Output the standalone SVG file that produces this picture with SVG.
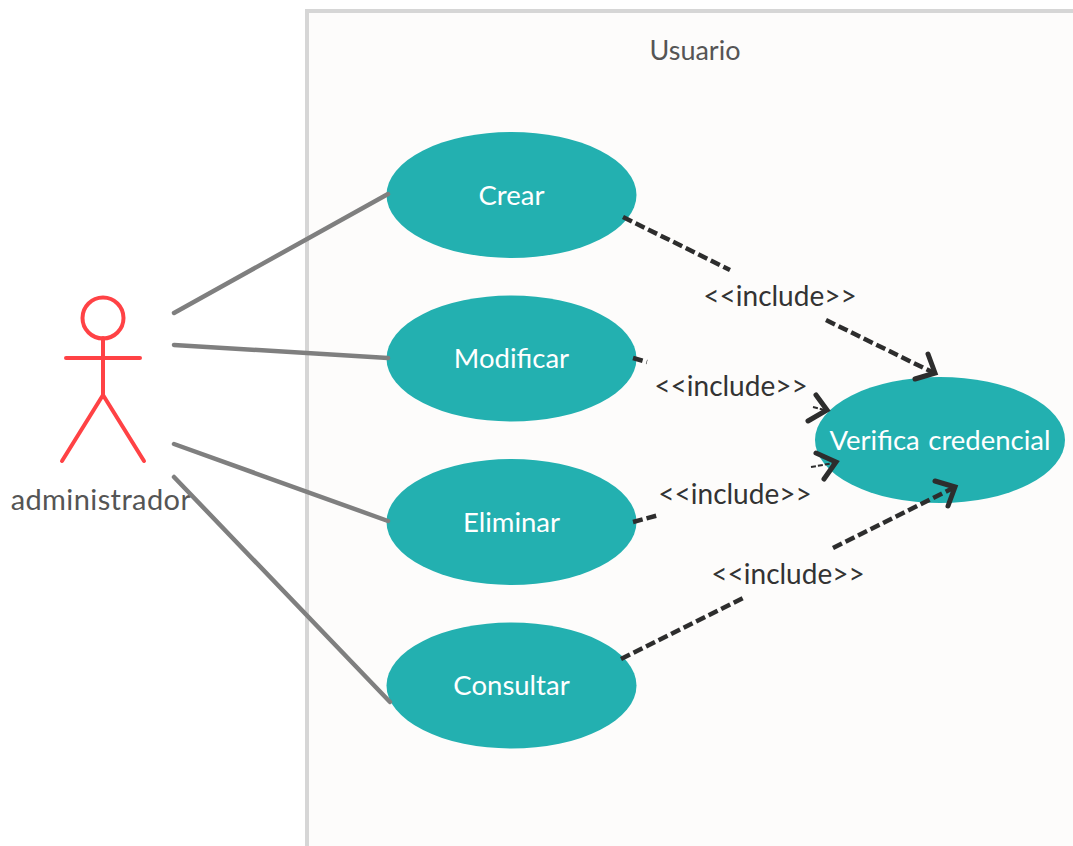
<svg xmlns="http://www.w3.org/2000/svg" width="1073" height="846" viewBox="0 0 1073 846">
<style>
text{font-family:"Lato","Carlito","Noto Sans",sans-serif;text-anchor:middle}
.uc{fill:#23b0b0}
.ucl{fill:#fff;font-size:27.5px}
.lbl{fill:#333;font-size:28px}
.grey{fill:#555;font-size:27px}
.assoc{stroke:#7f7f7f;stroke-width:4.5;fill:none;stroke-linecap:round}
.dash{stroke:#2d2d2d;stroke-width:4.5;fill:none;stroke-dasharray:10 4}
.fine{stroke:#2d2d2d;stroke-width:2;fill:none;stroke-dasharray:5 2}
.head{stroke:#2d2d2d;stroke-width:5;fill:none;stroke-linecap:round;stroke-linejoin:miter}
.actor{stroke:#ff4245;stroke-width:4;fill:none;stroke-linecap:round}
</style>
<rect width="1073" height="846" fill="#fff"/>
<g id="boundary">
<path d="M307 846V11H1073V846Z" fill="#fdfcfb"/>
<path d="M307 846V11H1073" fill="none" stroke="#d6d6d6" stroke-width="4"/>
<text class="grey" x="695" y="60">Usuario</text>
</g>
<g id="actor-administrador">
<circle class="actor" cx="103" cy="318" r="20.5"/>
<path class="actor" d="M103 338V395M66 358H140M62 461L103 395L144 461"/>
<text class="grey" x="101" y="510" style="font-size:29px;letter-spacing:.4px">administrador</text>
</g>
<g id="uc-crear"><ellipse class="uc" cx="511.5" cy="195" rx="125" ry="63"/><text class="ucl" x="511.5" y="205">Crear</text></g>
<g id="uc-modificar"><ellipse class="uc" cx="511.5" cy="358.5" rx="125" ry="63"/><text class="ucl" x="511.5" y="368">Modificar</text></g>
<g id="uc-eliminar"><ellipse class="uc" cx="511.5" cy="522" rx="125" ry="63"/><text class="ucl" x="511.5" y="532">Eliminar</text></g>
<g id="uc-consultar"><ellipse class="uc" cx="511.5" cy="685.5" rx="125" ry="63"/><text class="ucl" x="511.5" y="695">Consultar</text></g>
<g id="uc-verifica"><ellipse class="uc" cx="940" cy="440" rx="125" ry="63"/><text class="ucl" x="940" y="450" style="word-spacing:1.5px">Verifica credencial</text></g>
<g id="connectors">
<path class="assoc" d="M174 313L388 194"/>
<path class="assoc" d="M174 345L388 358"/>
<path class="assoc" d="M174 444L388 521"/>
<path class="assoc" d="M174 477L390 702"/>
<path class="dash" d="M623 217L730 270"/>
<path class="dash" d="M826 320L934 373"/>
<path class="head" d="M928 354L935 373L915 379"/>
<path class="dash" d="M633 358L647 362"/>
<path class="fine" d="M813 407L825 410"/>
<path class="head" d="M816 395L827 410L808 421"/>
<path class="dash" d="M633 522L659 515"/>
<path class="fine" d="M811 467L834 463"/>
<path class="head" d="M816 453L836 462L824 479"/>
<path class="dash" d="M621 659L743 598"/>
<path class="dash" d="M833 548L953 488"/>
<path class="head" d="M935 481L955 487L948 506"/>
</g>
<g id="label-1"><text class="lbl" x="780" y="306">&lt;&lt;include&gt;&gt;</text></g>
<g id="label-2"><text class="lbl" x="731" y="396">&lt;&lt;include&gt;&gt;</text></g>
<g id="label-3"><text class="lbl" x="735" y="504">&lt;&lt;include&gt;&gt;</text></g>
<g id="label-4"><text class="lbl" x="788" y="584">&lt;&lt;include&gt;&gt;</text></g>
</svg>
